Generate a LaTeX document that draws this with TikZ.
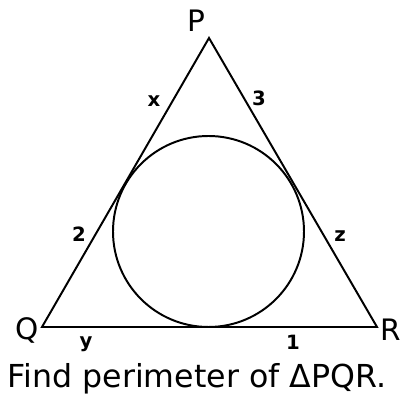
\documentclass[tikz,border=0pt]{standalone}
\usepackage{fontspec}
\setmainfont{DejaVu Sans}
\usepackage{tikz}
\usetikzlibrary{positioning, calc}
\tikzset{
    % Triangle and incircle
    tside/.style={draw=black, line width=1.4pt, line join=miter},
    incirc/.style={draw=black, line width=1.4pt},
    % Labels
    vlabel/.style={font=\fontsize{21}{24}\selectfont, inner sep=0pt},
    seglabel/.style={font=\fontsize{14}{16}\selectfont\bfseries, inner sep=0pt},
    qtext/.style={font=\fontsize{22.5}{26}\selectfont, inner sep=0pt},
}
\begin{document}
\begin{tikzpicture}[x=0.25mm, y=-0.25mm]
\useasboundingbox (0,0) rectangle (401,396);
\coordinate (P) at (209,38);
\coordinate (Q) at (42,327);
\coordinate (R) at (377,327);
\coordinate (O) at (208.5,231.5);

\draw[tside] (P) -- (Q) -- (R) -- cycle;
\draw[incirc] (O) circle (95.5);

\node[vlabel] (lp) at (196,21)  {P};
\node[vlabel] (lq) at (27,330)  {Q};
\node[vlabel] (lr) at (391,330) {R};

\node[seglabel] (lx) at (154,101) {x};
\node[seglabel] (l3) at (259,98)  {3};
\node[seglabel] (l2) at (79,234)  {2};
\node[seglabel] (lz) at (340,236) {z};
\node[seglabel] (ly) at (86,344)  {y};
\node[seglabel] (l1) at (293,342) {1};

\node[qtext] (task) at (197,379) {Find perimeter of ΔPQR.};
\end{tikzpicture}
\end{document}
